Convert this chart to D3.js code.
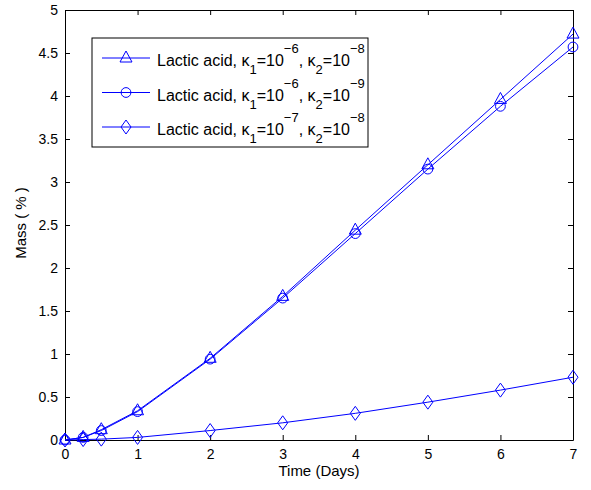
<!DOCTYPE html>
<html>
<head>
<meta charset="utf-8">
<script src="https://cdn.jsdelivr.net/npm/d3@7"></script>
<style>
  body { margin: 0; background: #fff; }
  text { font-family: "Liberation Sans", Arial, sans-serif; }
</style>
</head>
<body>
<div id="chart"></div>
<script>
// Data
var days = [0, 0.25, 0.5, 1, 2, 3, 4, 5, 6, 7];
var massK6K8 = [0, 0.03, 0.12, 0.34, 0.95, 1.67, 2.44, 3.2, 3.96, 4.72];
var massK6K9 = [0, 0.03, 0.11, 0.33, 0.94, 1.65, 2.4, 3.15, 3.88, 4.57];
var massK7K8 = [0, 0.005, 0.01, 0.03, 0.11, 0.2, 0.31, 0.44, 0.58, 0.73];
var xTicks = [0, 1, 2, 3, 4, 5, 6, 7];
var yTicks = [0, 0.5, 1, 1.5, 2, 2.5, 3, 3.5, 4, 4.5, 5];

var seriesList = [
  { values: massK6K8, marker: "triangle", k1: "\u22126", k2: "\u22128" },
  { values: massK6K9, marker: "circle", k1: "\u22126", k2: "\u22129" },
  { values: massK7K8, marker: "diamond", k1: "\u22127", k2: "\u22128" }
];

var margin = { top: 10, right: 18, bottom: 50, left: 65 },
  width = 591 - margin.left - margin.right,
  height = 490 - margin.top - margin.bottom;

var svg = d3.select("#chart")
  .append("svg")
  .attr("width", 591)
  .attr("height", 490)
  .append("g")
  .attr("transform", "translate(" + margin.left + "," + margin.top + ")");

var x = d3.scaleLinear().domain([0, 7]).range([0, width]);
var y = d3.scaleLinear().domain([0, 5]).range([height, 0]);

var blue = "#0000ff";

// Axes with inward ticks (box style)
svg.append("g")
  .attr("transform", "translate(0," + height + ")")
  .call(d3.axisBottom(x).tickValues(xTicks).tickSizeInner(-5).tickSizeOuter(0).tickPadding(9).tickFormat(d3.format("d")));
svg.append("g")
  .call(d3.axisLeft(y).tickValues(yTicks).tickSizeInner(-5).tickSizeOuter(0).tickPadding(7).tickFormat(function (d) { return d; }));
svg.append("g")
  .call(d3.axisTop(x).tickValues(xTicks).tickSizeInner(-5).tickSizeOuter(0).tickFormat(""));
svg.append("g")
  .attr("transform", "translate(" + width + ",0)")
  .call(d3.axisRight(y).tickValues(yTicks).tickSizeInner(-5).tickSizeOuter(0).tickFormat(""));

svg.selectAll(".domain").attr("stroke", "#000");
svg.selectAll(".tick line").attr("stroke", "#000");
svg.selectAll(".tick text").style("font-size", "14px").attr("fill", "#000");

// Axis labels
svg.append("text")
  .attr("x", width / 2)
  .attr("y", height + 36)
  .attr("text-anchor", "middle")
  .style("font-size", "15px")
  .text("Time (Days)");

svg.append("text")
  .attr("transform", "translate(" + (-39) + "," + (height / 2 - 2) + ") rotate(-90)")
  .attr("text-anchor", "middle")
  .style("font-size", "15px")
  .text("Mass ( % )");

function markerPath(m) {
  if (m === "diamond") {
    return "M0,-7L5,0L0,7L-5,0Z";
  }
  if (m === "triangle") {
    return "M0,-7L6,4L-6,4Z";
  }
  return d3.symbol().type(d3.symbolCircle).size(75)();
}

var line = d3.line()
  .x(function (d, i) { return x(days[i]); })
  .y(function (d) { return y(d); });

seriesList.forEach(function (s) {
  svg.append("path")
    .datum(s.values)
    .attr("d", line)
    .attr("fill", "none")
    .attr("stroke", blue)
    .attr("stroke-width", 1);

  svg.selectAll(null)
    .data(s.values)
    .enter()
    .append("path")
    .attr("d", markerPath(s.marker))
    .attr("transform", function (d, i) { return "translate(" + x(days[i]) + "," + y(d) + ")"; })
    .attr("fill", "none")
    .attr("stroke", blue)
    .attr("stroke-width", 1);
});

// Legend
var legend = svg.append("g").attr("transform", "translate(" + (92 - margin.left) + "," + (38 - margin.top) + ")");
legend.append("rect")
  .attr("width", 276)
  .attr("height", 109)
  .attr("fill", "#fff")
  .attr("stroke", "#000");

seriesList.forEach(function (s, i) {
  var ly = 20 + i * 34.5;
  legend.append("line")
    .attr("x1", 10).attr("x2", 58)
    .attr("y1", ly).attr("y2", ly)
    .attr("stroke", blue);
  legend.append("path")
    .attr("d", markerPath(s.marker))
    .attr("transform", "translate(34," + ly + ")")
    .attr("fill", "none")
    .attr("stroke", blue);
  var t = legend.append("text")
    .attr("x", 65)
    .attr("y", ly + 8)
    .style("font-size", "16px");
  t.append("tspan").text("Lactic acid, \u03ba");
  t.append("tspan").attr("dy", 8).style("font-size", "13px").text("1");
  t.append("tspan").attr("dy", -8).text("=10");
  t.append("tspan").attr("dy", -13).style("font-size", "13px").text(s.k1);
  t.append("tspan").attr("dy", 13).text(", \u03ba");
  t.append("tspan").attr("dy", 8).style("font-size", "13px").text("2");
  t.append("tspan").attr("dy", -8).text("=10");
  t.append("tspan").attr("dy", -13).style("font-size", "13px").text(s.k2);
});
</script>
</body>
</html>
